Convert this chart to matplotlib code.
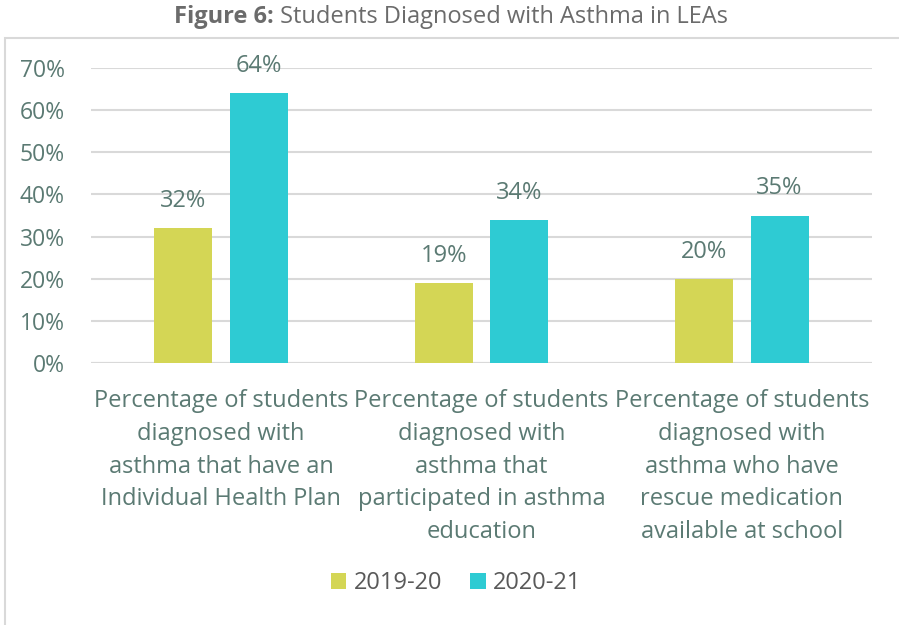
import matplotlib.pyplot as plt
from matplotlib.patches import Rectangle
import numpy as np

plt.rcParams['font.family'] = ['Open Sans', 'DejaVu Sans']

categories = ["Percentage of students\ndiagnosed with\nasthma that have an\nIndividual Health Plan",
              "Percentage of students\ndiagnosed with\nasthma that\nparticipated in asthma\neducation",
              "Percentage of students\ndiagnosed with\nasthma who have\nrescue medication\navailable at school"]
series_names = ["2019-20", "2020-21"]
vals_1920 = [0.32, 0.19, 0.20]
vals_2021 = [0.64, 0.34, 0.35]
colors = ["#d4d655", "#2ecbd3"]
txt = "#5b7a73"

fig = plt.figure(figsize=(8.99, 6.25), dpi=100)
# outer border
fig.add_artist(Rectangle((5/899, -0.1), 1.2, 1 - 38/625 + 0.1, transform=fig.transFigure,
                         fill=False, edgecolor="#d9d9d9", linewidth=1.5))

# title: bold part + regular part, centred together
ty = 1 - 17/625
t1 = fig.text(0, ty, "Figure 6:", fontsize=17, fontweight="bold", color="#6b6b6b",
              ha="left", va="center")
t2 = fig.text(0, ty, " Students Diagnosed with Asthma in LEAs", fontsize=17, color="#6b6b6b",
              ha="left", va="center")
r = fig.canvas.get_renderer()
w1 = t1.get_window_extent(r).width
w2 = t2.get_window_extent(r).width
x0 = 451 - (w1 + w2) / 2
t1.set_x(x0 / 899)
t2.set_x((x0 + w1) / 899)

ax = fig.add_axes([91/899, 1 - 363/625, 781/899, 295/625])
x = np.arange(len(categories))
w = 0.223
off = 0.145
b1 = ax.bar(x - off, vals_1920, w, color=colors[0], label=series_names[0], zorder=3)
b2 = ax.bar(x + off, vals_2021, w, color=colors[1], label=series_names[1], zorder=3)
for bars in (b1, b2):
    for bar in bars:
        h = bar.get_height()
        ax.annotate(f"{h*100:.0f}%", (bar.get_x() + bar.get_width()/2, h), xytext=(0, 19.5),
                    textcoords="offset points", ha="center", va="center", fontsize=17, color=txt)

ax.set_xlim(-0.5, 2.5)
ax.set_ylim(0, 0.7)
ticks = np.arange(0, 0.71, 0.1)
ax.set_yticks(ticks)
ax.set_yticklabels([f"{v*100:.0f}%" for v in ticks])
ax.yaxis.grid(True, color="#d9d9d9", linewidth=1.5, zorder=0)
ax.set_axisbelow(True)
for s in ax.spines.values():
    s.set_visible(False)
ax.axhline(0, color="#d9d9d9", linewidth=1.5, zorder=2)
ax.tick_params(axis="y", length=0, pad=19, labelsize=16.5, labelcolor=txt)
ax.tick_params(axis="x", length=0, pad=19, labelsize=17, labelcolor=txt)
ax.set_xticks(x)
ax.set_xticklabels(categories, linespacing=1.48, va="top")

ax.legend(loc="center", bbox_to_anchor=(456/899, 1 - 583/625), bbox_transform=fig.transFigure,
          ncol=2, frameon=False, fontsize=17, handlelength=0.65, handleheight=0.65,
          handletextpad=0.3, columnspacing=1.2, labelcolor="#595959")

fig.savefig("out.png", dpi=100)
